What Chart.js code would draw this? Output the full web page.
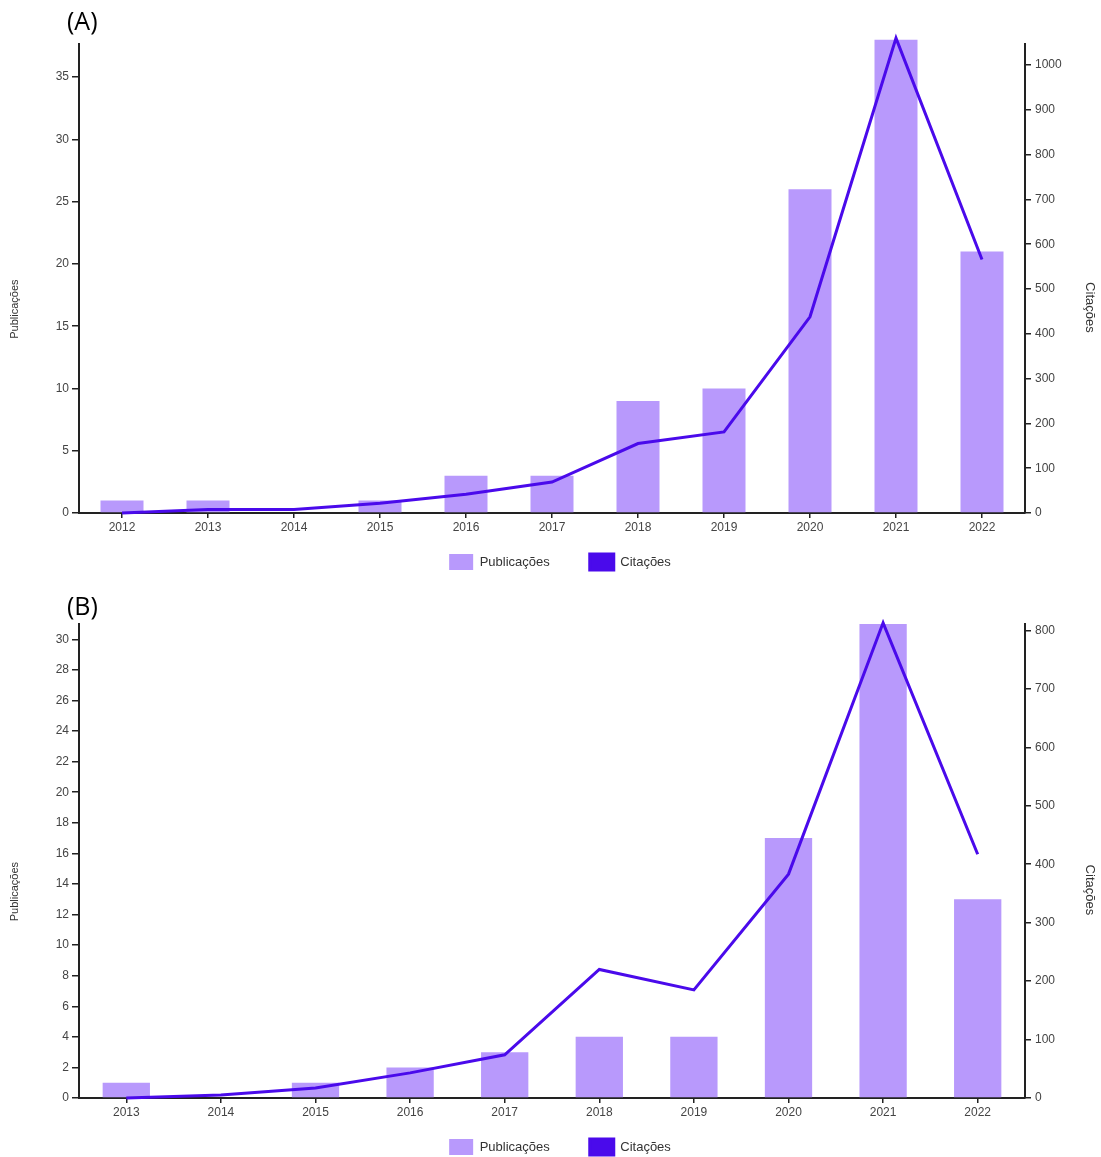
<!DOCTYPE html>
<html>
<head>
<meta charset="utf-8">
<script src="https://cdn.jsdelivr.net/npm/chart.js@4"></script>
<style>
  html, body { margin: 0; background: #fff; overflow: hidden; height: 1157px; }
  .panel { position: absolute; left: 0; width: 1101px; height: 620px; }
  .panel canvas { display: block; }
  .tag { position: absolute; left: 67px; font: 25px "Open Sans", "Liberation Sans", sans-serif; color: #000; line-height: 1; }
</style>
</head>
<body>
<div class="panel" style="top:0">
  <canvas id="chartA" width="1101" height="620"></canvas>
  <div class="tag" style="top:8px">(A)</div>
</div>
<div class="panel" style="top:585px">
  <canvas id="chartB" width="1101" height="620"></canvas>
  <div class="tag" style="top:8px">(B)</div>
</div>
<script>
// (A)
const yearsA = ['2012', '2013', '2014', '2015', '2016', '2017', '2018', '2019', '2020', '2021', '2022'];
const pubsA = [1, 1, 0, 1, 3, 3, 9, 10, 26, 38, 21];
const citesA = [0, 8, 8, 22, 42, 69, 155, 181, 438, 1060, 566];
const pubMaxA = 37.66, pubStepA = 5;
const citeMaxA = 1047, citeStepA = 100;

// (B)
const yearsB = ['2013', '2014', '2015', '2016', '2017', '2018', '2019', '2020', '2021', '2022'];
const pubsB = [1, 0, 1, 2, 3, 4, 4, 17, 31, 13];
const citesB = [0, 5, 17, 43, 74, 220, 185, 383, 813, 417];
const pubMaxB = 31, pubStepB = 2;
const citeMaxB = 811, citeStepB = 100;

const barColor = '#b899fc';
const lineColor = '#4a0aeb';
const axisColor = '#222';
const tickColor = '#444';
const font = 'Liberation Sans, Arial, sans-serif';

// the legend sits right under the year labels, closer than chart.js puts it
const raiseLegend = {
  id: 'raiseLegend',
  afterLayout(chart) {
    chart.legend.top -= 24;
    chart.legend.bottom -= 24;
  }
};

function makeChart(id, years, pubs, cites, pubMax, pubStep, citeMax, citeStep, padTop) {
  const ctx = document.getElementById(id).getContext('2d');
  return new Chart(ctx, {
    data: {
      labels: years,
      datasets: [{
        type: 'bar',
        label: 'Publicações',
        data: pubs,
        yAxisID: 'y',
        backgroundColor: barColor,
        borderWidth: 0,
        categoryPercentage: 1,
        barPercentage: 0.5,
        clip: false,
        order: 1
      }, {
        type: 'line',
        label: 'Citações',
        data: cites,
        yAxisID: 'y1',
        borderColor: lineColor,
        backgroundColor: lineColor,
        borderWidth: 3,
        pointRadius: 0,
        tension: 0,
        clip: false,
        order: 0
      }]
    },
    plugins: [raiseLegend],
    options: {
      responsive: false,
      animation: false,
      layout: {
        padding: { top: padTop, left: 19, right: 0, bottom: 16 }
      },
      plugins: {
        legend: {
          position: 'bottom',
          labels: {
            boxWidth: 24,
            boxHeight: 16,
            padding: 40,
            color: '#333',
            font: { size: 13, family: font },
            sort: (a, b) => a.datasetIndex - b.datasetIndex
          }
        },
        tooltip: { enabled: false }
      },
      scales: {
        x: {
          offset: true,
          grid: { offset: false, drawOnChartArea: false, tickLength: 5, color: axisColor, lineWidth: 1.5 },
          border: { color: axisColor, width: 2 },
          ticks: { color: tickColor, padding: 2, maxRotation: 0, font: { size: 12, family: font } },
          afterFit: (scale) => { scale.height = 25; }
        },
        y: {
          position: 'left',
          min: 0,
          max: pubMax,
          grid: { drawOnChartArea: false, tickLength: 7, color: axisColor, lineWidth: 1.5 },
          border: { color: axisColor, width: 2 },
          ticks: { stepSize: pubStep, includeBounds: false, color: tickColor, padding: 3, font: { size: 12, family: font } },
          title: {
            display: true,
            // trailing spaces push the label below the middle, as in the original
            text: 'Publicações' + ' '.repeat(20),
            color: '#333',
            font: { size: 11, family: font },
            padding: { top: -10.6, bottom: 0 }
          },
          afterFit: (scale) => { scale.width = 60; }
        },
        y1: {
          position: 'right',
          min: 0,
          max: citeMax,
          grid: { drawOnChartArea: false, tickLength: 6, color: axisColor, lineWidth: 1.5 },
          border: { color: axisColor, width: 2 },
          ticks: { stepSize: citeStep, includeBounds: false, color: tickColor, padding: 4, font: { size: 12, family: font }, callback: (v) => String(v) },
          title: {
            display: true,
            text: ' '.repeat(16) + 'Citações',
            color: '#333',
            font: { size: 13, family: font },
            padding: { top: 3.2, bottom: 0 }
          },
          afterFit: (scale) => { scale.width = 76; }
        }
      }
    }
  });
}

makeChart('chartA', yearsA, pubsA, citesA, pubMaxA, pubStepA, citeMaxA, citeStepA, 44);
makeChart('chartB', yearsB, pubsB, citesB, pubMaxB, pubStepB, citeMaxB, citeStepB, 39);
</script>
</body>
</html>
